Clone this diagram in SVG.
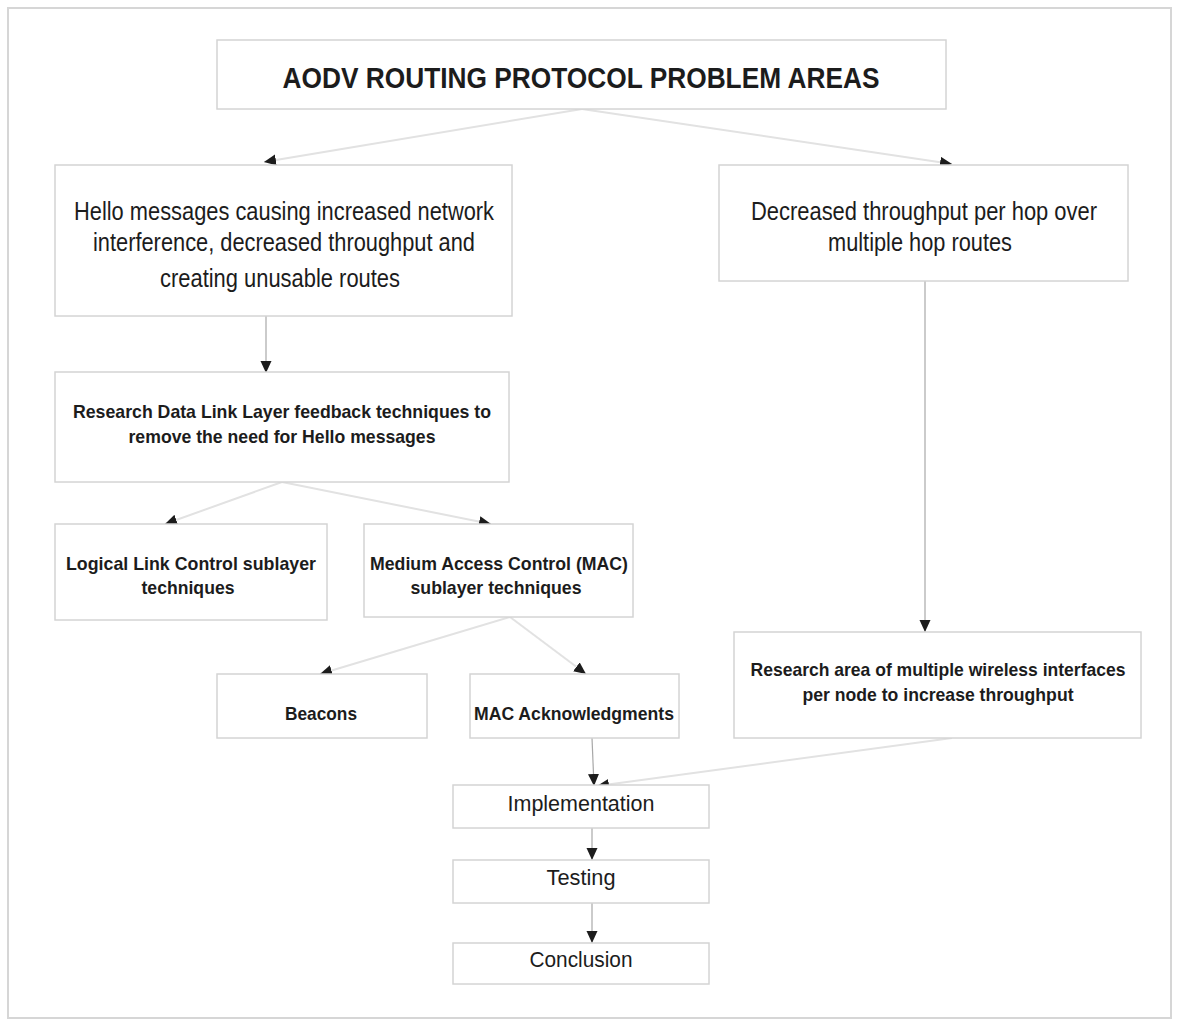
<svg xmlns="http://www.w3.org/2000/svg" width="1177" height="1020" viewBox="0 0 1177 1020">
<style>
.box{fill:#ffffff;stroke:#d4d4d4;stroke-width:1.5}
.frame{fill:#ffffff;stroke:#d6d6d6;stroke-width:2}
.t{font-family:"Liberation Sans",Arial,sans-serif;fill:#1c1c1c;text-anchor:middle}
.b{font-weight:bold}
.diag{fill:none;stroke:#e2e2e2;stroke-width:2}
.vert{fill:none;stroke:#a8a8a8;stroke-width:1.2}
</style>
<defs>
<marker id="ah" markerUnits="userSpaceOnUse" markerWidth="14" markerHeight="12" refX="12" refY="5.5" orient="auto">
<path d="M0,0 L12,5.5 L0,11 z" fill="#1c1c1c"/>
</marker>
</defs>
<rect class="frame" x="8" y="8" width="1163" height="1010"/>
<g id="connectors">
<line class="diag" x1="582" y1="109" x2="264" y2="162" marker-end="url(#ah)"/>
<line class="diag" x1="582" y1="109" x2="952" y2="164" marker-end="url(#ah)"/>
<line class="vert" x1="266" y1="316" x2="266" y2="373" marker-end="url(#ah)"/>
<line class="diag" x1="282" y1="482" x2="165" y2="524" marker-end="url(#ah)"/>
<line class="diag" x1="282" y1="482" x2="491" y2="524" marker-end="url(#ah)"/>
<line class="diag" x1="510" y1="617" x2="320" y2="674" marker-end="url(#ah)"/>
<line class="diag" x1="510" y1="617" x2="586" y2="674" marker-end="url(#ah)"/>
<line class="vert" x1="925" y1="281" x2="925" y2="632" marker-end="url(#ah)"/>
<line class="vert" x1="592" y1="738" x2="594" y2="786" marker-end="url(#ah)"/>
<line class="diag" x1="952" y1="738" x2="597" y2="786" marker-end="url(#ah)"/>
<line class="vert" x1="592" y1="828" x2="592" y2="860" marker-end="url(#ah)"/>
<line class="vert" x1="592" y1="903" x2="592" y2="943" marker-end="url(#ah)"/>
</g>
<g id="title">
<rect class="box" x="217" y="40" width="729" height="69"/>
<text class="t b" x="581" y="88" font-size="29" textLength="597" lengthAdjust="spacingAndGlyphs">AODV ROUTING PROTOCOL PROBLEM AREAS</text>
</g>
<g id="hello">
<rect class="box" x="55" y="165" width="457" height="151"/>
<text class="t" x="284" y="220" font-size="25" textLength="420" lengthAdjust="spacingAndGlyphs">Hello messages causing increased network</text>
<text class="t" x="284" y="251" font-size="25" textLength="382" lengthAdjust="spacingAndGlyphs">interference, decreased throughput and</text>
<text class="t" x="280" y="287" font-size="25" textLength="240" lengthAdjust="spacingAndGlyphs">creating unusable routes</text>
</g>
<g id="decreased">
<rect class="box" x="719" y="165" width="409" height="116"/>
<text class="t" x="924" y="220" font-size="25" textLength="346" lengthAdjust="spacingAndGlyphs">Decreased throughput per hop over</text>
<text class="t" x="920" y="251" font-size="25" textLength="184" lengthAdjust="spacingAndGlyphs">multiple hop routes</text>
</g>
<g id="research-dll">
<rect class="box" x="55" y="372" width="454" height="110"/>
<text class="t b" x="282" y="418" font-size="19" textLength="418" lengthAdjust="spacingAndGlyphs">Research Data Link Layer feedback techniques to</text>
<text class="t b" x="282" y="443" font-size="19" textLength="307" lengthAdjust="spacingAndGlyphs">remove the need for Hello messages</text>
</g>
<g id="llc">
<rect class="box" x="55" y="524" width="272" height="96"/>
<text class="t b" x="191" y="570" font-size="19" textLength="250" lengthAdjust="spacingAndGlyphs">Logical Link Control sublayer</text>
<text class="t b" x="188" y="594" font-size="19" textLength="93" lengthAdjust="spacingAndGlyphs">techniques</text>
</g>
<g id="mac">
<rect class="box" x="364" y="524" width="269" height="93"/>
<text class="t b" x="499" y="570" font-size="19" textLength="258" lengthAdjust="spacingAndGlyphs">Medium Access Control (MAC)</text>
<text class="t b" x="496" y="594" font-size="19" textLength="171" lengthAdjust="spacingAndGlyphs">sublayer techniques</text>
</g>
<g id="beacons">
<rect class="box" x="217" y="674" width="210" height="64"/>
<text class="t b" x="321" y="720" font-size="19" textLength="72" lengthAdjust="spacingAndGlyphs">Beacons</text>
</g>
<g id="mac-ack">
<rect class="box" x="470" y="674" width="209" height="64"/>
<text class="t b" x="574" y="720" font-size="19" textLength="200" lengthAdjust="spacingAndGlyphs">MAC Acknowledgments</text>
</g>
<g id="research-multi">
<rect class="box" x="734" y="632" width="407" height="106"/>
<text class="t b" x="938" y="676" font-size="19" textLength="375" lengthAdjust="spacingAndGlyphs">Research area of multiple wireless interfaces</text>
<text class="t b" x="938" y="701" font-size="19" textLength="271" lengthAdjust="spacingAndGlyphs">per node to increase throughput</text>
</g>
<g id="implementation">
<rect class="box" x="453" y="785" width="256" height="43"/>
<text class="t" x="581" y="811" font-size="22" textLength="147" lengthAdjust="spacingAndGlyphs">Implementation</text>
</g>
<g id="testing">
<rect class="box" x="453" y="860" width="256" height="43"/>
<text class="t" x="581" y="885" font-size="22" textLength="69" lengthAdjust="spacingAndGlyphs">Testing</text>
</g>
<g id="conclusion">
<rect class="box" x="453" y="943" width="256" height="41"/>
<text class="t" x="581" y="967" font-size="22" textLength="103" lengthAdjust="spacingAndGlyphs">Conclusion</text>
</g>
</svg>
